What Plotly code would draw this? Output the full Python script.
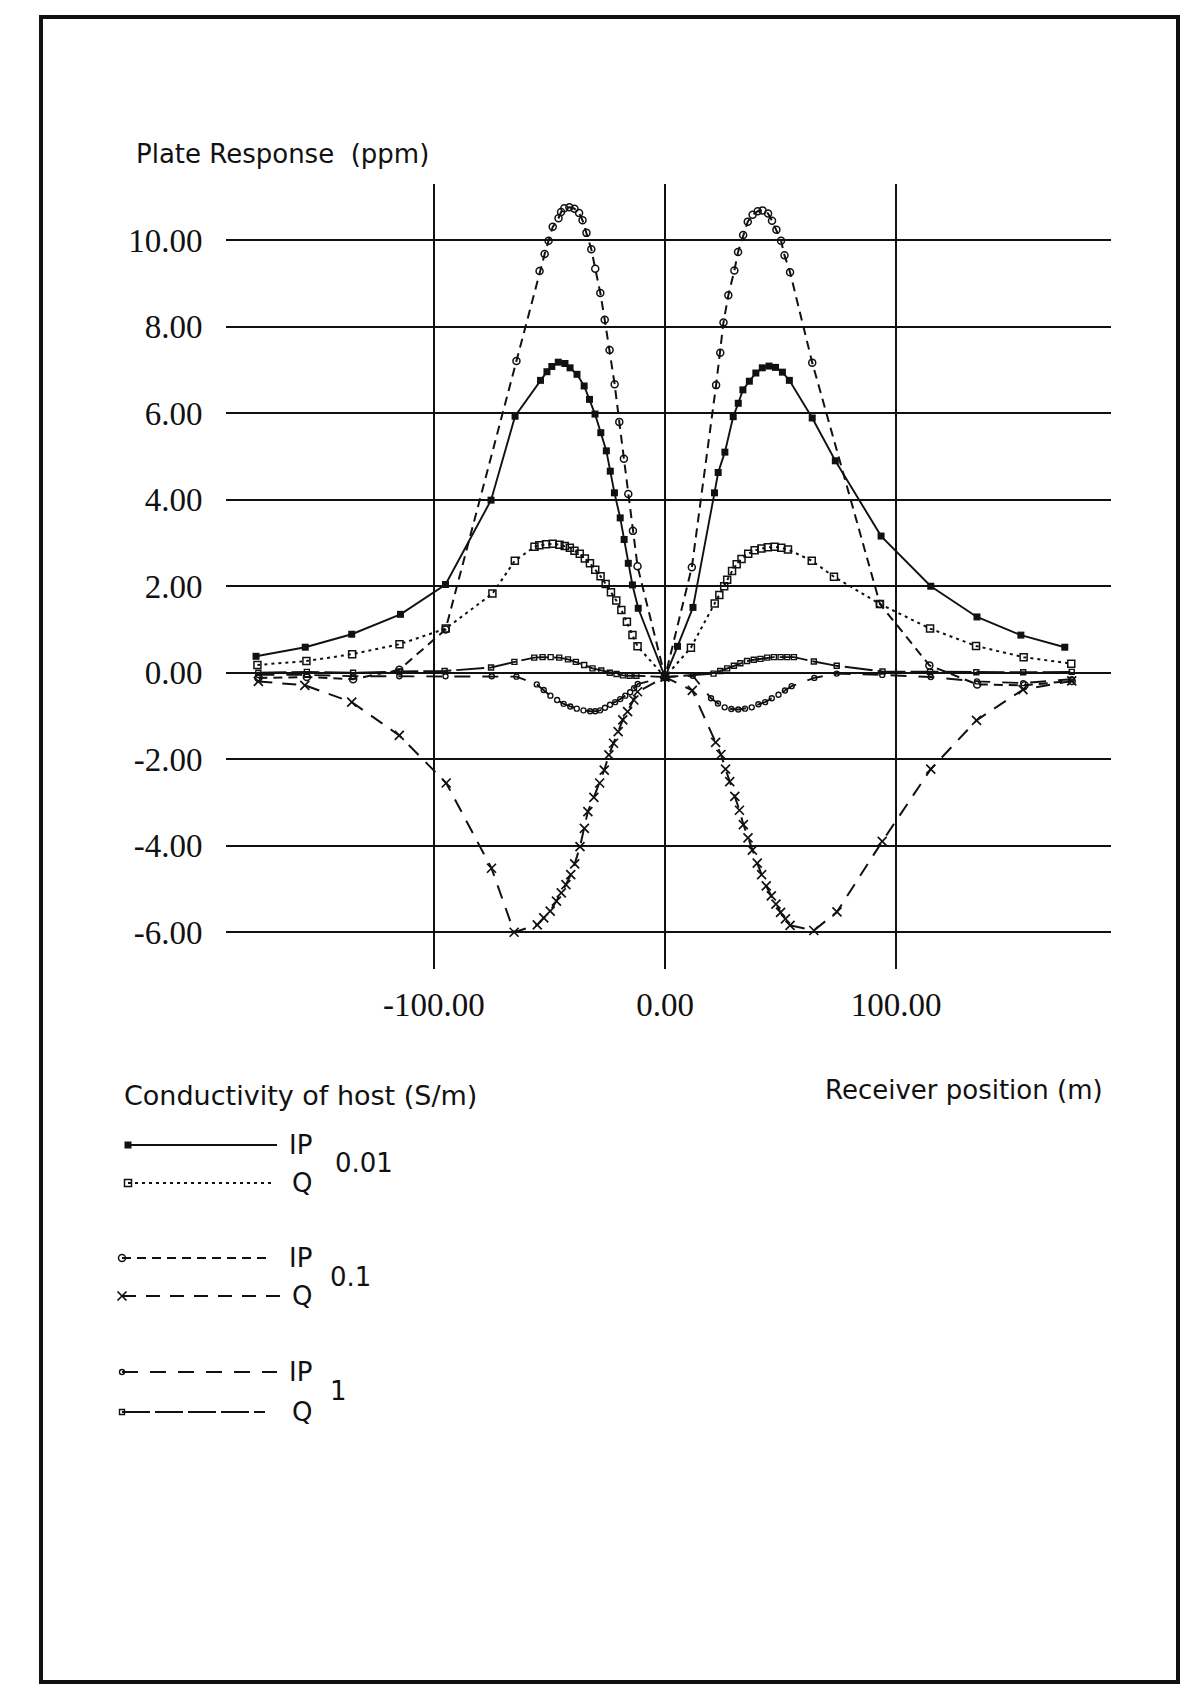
import plotly.graph_objects as go

# Plate response (ppm) versus receiver position (m) for three host conductivities.
# IP = in-phase, Q = quadrature.

# host 0.01 S/m, in-phase
x_ip_001 = [-177.0, -155.7, -135.6, -114.5, -95.0, -75.3, -64.9, -53.9, -51.1, -49.0, -46.2, -43.3,
            -41.1, -38.1, -35.0, -32.7, -30.3, -27.8, -25.4, -23.7, -21.9, -19.4, -17.7, -15.9,
            -14.1, -11.6, 0.0, 5.4, 12.1, 21.4, 23.0, 25.9, 29.5, 31.7, 33.7, 36.5, 39.3, 42.1,
            45.0, 47.8, 50.8, 53.8, 63.7, 73.7, 93.5, 115.0, 135.0, 154.0, 173.0]
y_ip_001 = [0.38, 0.59, 0.89, 1.35, 2.04, 3.99, 5.93, 6.76, 6.96, 7.08, 7.18, 7.15,
            7.05, 6.90, 6.63, 6.32, 5.98, 5.55, 5.13, 4.66, 4.16, 3.58, 3.08, 2.53,
            2.03, 1.49, -0.10, 0.61, 1.51, 4.16, 4.63, 5.10, 5.92, 6.23, 6.54, 6.74, 6.93, 7.05,
            7.09, 7.06, 6.95, 6.76, 5.89, 4.90, 3.16, 2.00, 1.29, 0.87, 0.59]

# host 0.01 S/m, quadrature
x_q_001 = [-176.4, -155.2, -135.4, -114.9, -94.9, -74.7, -65.0, -56.5, -54.4, -51.5, -48.6, -45.7,
           -43.4, -41.2, -39.2, -36.9, -34.7, -32.5, -30.2, -27.9, -25.7, -23.4, -21.1, -18.9,
           -16.5, -14.1, -11.9, 0.0, 11.2, 21.5, 23.5, 25.6, 26.9, 29.0, 31.0, 33.1, 36.0, 38.8,
           41.7, 44.5, 47.4, 50.3, 53.2, 63.5, 73.1, 93.0, 114.7, 134.6, 155.2, 175.8]
y_q_001 = [0.18, 0.27, 0.43, 0.66, 1.02, 1.83, 2.59, 2.91, 2.95, 2.97, 2.98, 2.96,
           2.93, 2.89, 2.82, 2.75, 2.64, 2.53, 2.38, 2.23, 2.05, 1.86, 1.67, 1.45,
           1.18, 0.87, 0.61, -0.10, 0.58, 1.60, 1.80, 2.00, 2.15, 2.35, 2.51, 2.63, 2.75, 2.83,
           2.87, 2.90, 2.91, 2.89, 2.85, 2.59, 2.22, 1.59, 1.02, 0.62, 0.36, 0.21]

# host 0.1 S/m, in-phase
x_ip_01 = [-176.0, -155.0, -135.0, -115.0, -95.0, -64.3, -54.3, -52.1, -50.4, -48.6, -46.1, -45.0,
           -43.6, -41.4, -39.2, -37.2, -35.7, -34.0, -31.9, -30.2, -28.0, -26.1, -24.0, -21.8,
           -19.8, -17.8, -15.9, -13.9, -11.9, 0.0, 11.6, 22.1, 23.9, 25.3, 27.4, 30.0, 31.6, 33.8,
           35.8, 37.9, 40.1, 42.2, 44.6, 46.3, 48.2, 50.2, 51.7, 54.1, 63.7, 93.0, 114.4, 135.1,
           155.6, 176.0]
y_ip_01 = [-0.12, -0.10, -0.15, 0.07, 1.00, 7.21, 9.29, 9.68, 9.99, 10.31, 10.51, 10.65,
           10.74, 10.76, 10.73, 10.63, 10.46, 10.17, 9.79, 9.34, 8.78, 8.16, 7.46, 6.67,
           5.80, 4.95, 4.13, 3.28, 2.46, -0.10, 2.44, 6.65, 7.40, 8.10, 8.73, 9.30, 9.73, 10.12,
           10.43, 10.59, 10.67, 10.69, 10.62, 10.45, 10.24, 9.99, 9.65, 9.26, 7.17, 1.59, 0.17, -0.27,
           -0.29, -0.19]

# host 0.1 S/m, quadrature
x_q_01 = [-176.0, -155.9, -135.6, -115.0, -94.7, -75.1, -65.3, -55.3, -52.5, -49.7, -47.0, -44.9,
          -42.9, -40.8, -39.1, -36.8, -34.9, -33.4, -30.8, -28.3, -26.3, -24.3, -22.3, -20.3,
          -18.3, -16.2, -13.5, -11.9, 0.0, 11.8, 21.9, 24.2, 26.2, 28.0, 30.2, 32.2, 33.9, 35.9,
          37.8, 39.9, 41.8, 43.8, 46.0, 48.0, 50.0, 52.1, 54.1, 64.4, 74.4, 94.0, 115.0, 134.8,
          154.9, 176.0]
y_q_01 = [-0.20, -0.29, -0.68, -1.45, -2.55, -4.52, -6.00, -5.83, -5.67, -5.51, -5.28, -5.09,
          -4.90, -4.67, -4.42, -4.02, -3.60, -3.21, -2.88, -2.55, -2.25, -1.90, -1.63, -1.36,
          -1.09, -0.90, -0.63, -0.44, -0.10, -0.41, -1.61, -1.89, -2.23, -2.52, -2.86, -3.18, -3.51, -3.82,
          -4.10, -4.40, -4.67, -4.93, -5.16, -5.35, -5.54, -5.69, -5.84, -5.96, -5.53, -3.90, -2.23, -1.10,
          -0.39, -0.19]

# host 1 S/m, in-phase
x_ip_1 = [-176.0, -155.0, -135.0, -115.0, -95.0, -75.0, -64.3, -55.5, -52.5, -49.6, -46.7, -43.9,
          -41.0, -38.2, -35.3, -32.4, -30.2, -28.1, -26.0, -23.8, -21.6, -19.4, -17.2, -15.1,
          -13.4, -11.8, 0.0, 12.0, 19.9, 22.9, 25.8, 28.7, 31.7, 34.6, 37.5, 40.4, 43.3, 46.2,
          49.1, 51.9, 54.8, 64.6, 74.3, 94.0, 115.0, 135.0, 155.0, 176.0]
y_ip_1 = [-0.05, -0.05, -0.08, -0.08, -0.08, -0.08, -0.09, -0.27, -0.40, -0.53, -0.63, -0.72,
          -0.78, -0.83, -0.87, -0.89, -0.89, -0.87, -0.81, -0.74, -0.68, -0.61, -0.53, -0.45,
          -0.36, -0.26, -0.10, -0.07, -0.59, -0.71, -0.80, -0.84, -0.85, -0.83, -0.80, -0.73, -0.68, -0.59,
          -0.51, -0.41, -0.31, -0.12, -0.02, -0.05, -0.10, -0.20, -0.24, -0.15]

# host 1 S/m, quadrature
x_q_1 = [-176.0, -155.0, -135.0, -115.0, -95.4, -75.3, -65.2, -56.6, -53.0, -49.5, -45.8, -42.0,
         -38.6, -35.0, -31.4, -27.6, -23.9, -21.0, -18.2, -15.3, -12.4, 0.0, 21.0, 23.9, 26.9,
         29.8, 32.6, 35.5, 38.4, 41.3, 44.2, 47.1, 50.0, 52.9, 55.8, 64.4, 74.3, 94.1, 114.7,
         134.7, 155.0, 176.0]
y_q_1 = [0.00, 0.02, 0.00, 0.03, 0.04, 0.12, 0.25, 0.35, 0.36, 0.36, 0.35, 0.31,
         0.25, 0.18, 0.10, 0.05, 0.00, -0.03, -0.06, -0.07, -0.07, -0.10, -0.02, 0.04, 0.10,
         0.16, 0.22, 0.27, 0.30, 0.32, 0.35, 0.36, 0.36, 0.36, 0.36, 0.26, 0.16, 0.03, 0.02,
         0.01, 0.01, 0.02]

x_tick_vals = [-100, 0, 100]
x_tick_text = ["-100.00", "0.00", "100.00"]
y_tick_vals = [-6, -4, -2, 0, 2, 4, 6, 8, 10]
y_tick_text = ["-6.00", "-4.00", "-2.00", "0.00", "2.00", "4.00", "6.00", "8.00", "10.00"]

conductivity_labels = ["0.01", "0.1", "1"]
component_labels = ["IP", "Q"]

# ---------------------------------------------------------------- styling
W, H = 1195, 1698
INK = "#111111"
SERIF = "Liberation Serif, Times New Roman, serif"
SANS = "DejaVu Sans, Verdana, sans-serif"

STYLE = {
    "ip_001": dict(line=dict(color=INK, width=1.9, dash="solid"),
                   marker=dict(symbol="square", size=7, color=INK)),
    "q_001": dict(line=dict(color=INK, width=2.0, dash="3px,4px"),
                  marker=dict(symbol="square-open", size=7, color=INK, line=dict(width=1.5, color=INK))),
    "ip_01": dict(line=dict(color=INK, width=2.0, dash="9px,6px"),
                  marker=dict(symbol="circle-open", size=7, color=INK, line=dict(width=1.5, color=INK))),
    "q_01": dict(line=dict(color=INK, width=2.0, dash="14px,10px"),
                 marker=dict(symbol="x-thin", size=9, color=INK, line=dict(width=1.7, color=INK))),
    "ip_1": dict(line=dict(color=INK, width=1.9, dash="16px,12px"),
                 marker=dict(symbol="circle-open", size=5, color=INK, line=dict(width=1.4, color=INK))),
    "q_1": dict(line=dict(color=INK, width=1.9, dash="28px,5px"),
                marker=dict(symbol="square-open", size=5, color=INK, line=dict(width=1.4, color=INK))),
}

series = [
    ("ip_001", x_ip_001, y_ip_001),
    ("q_001", x_q_001, y_q_001),
    ("ip_01", x_ip_01, y_ip_01),
    ("q_01", x_q_01, y_q_01),
    ("ip_1", x_ip_1, y_ip_1),
    ("q_1", x_q_1, y_q_1),
]

fig = go.Figure()

for key, xs, ys in series:
    st = STYLE[key]
    fig.add_trace(go.Scatter(x=xs, y=ys, mode="lines+markers", line=st["line"],
                             marker=st["marker"], xaxis="x", yaxis="y",
                             cliponaxis=False, hoverinfo="skip"))

# ---------------------------------------------------------------- key (pixel overlay axes)
key_rows = [  # (style, label, row y, line start, line end)
    ("ip_001", component_labels[0], 1145, 128, 277),
    ("q_001", component_labels[1], 1183, 128, 275),
    ("ip_01", component_labels[0], 1258, 122, 272),
    ("q_01", component_labels[1], 1296, 122, 280),
    ("ip_1", component_labels[0], 1372, 122, 277),
    ("q_1", component_labels[1], 1412, 122, 265),
]
for key, label, ry, xa, xb in key_rows:
    st = STYLE[key]
    fig.add_trace(go.Scatter(x=[xa, xb], y=[ry, ry], mode="lines", line=st["line"],
                             xaxis="x2", yaxis="y2", hoverinfo="skip"))
    fig.add_trace(go.Scatter(x=[xa], y=[ry], mode="markers", marker=st["marker"],
                             xaxis="x2", yaxis="y2", hoverinfo="skip"))

annotations = []


def label(text, x, y, anchor="left", size=26, family=SANS):
    annotations.append(dict(text=text, x=x, y=y, xref="x2", yref="y2", xanchor=anchor,
                            yanchor="middle", showarrow=False,
                            font=dict(family=family, size=size, color=INK)))


for key, comp, ry, xa, xb in key_rows:
    label(comp, 314, ry, anchor="right")

label(conductivity_labels[0], 333, 1163)
label(conductivity_labels[1], 328, 1277)
label(conductivity_labels[2], 328, 1391)

label("Plate Response\u00a0 (ppm)", 134, 154)
label("Receiver position (m)", 823, 1090)
label("Conductivity of host (S/m)", 122, 1095, size=27)

fig.update_layout(
    width=W, height=H,
    margin=dict(l=0, r=0, t=0, b=0),
    paper_bgcolor="white",
    plot_bgcolor="rgba(0,0,0,0)",
    showlegend=False,
    annotations=annotations,
    shapes=[dict(type="rect", xref="x2", yref="y2", x0=41, y0=17, x1=1178, y1=1682,
                 line=dict(color=INK, width=4), layer="above")],
    xaxis=dict(domain=[226 / W, 1111 / W], range=[-190, 193], anchor="y",
               tickmode="array", tickvals=x_tick_vals, ticktext=x_tick_text,
               showgrid=True, gridcolor=INK, gridwidth=1.7, zeroline=False, showline=False,
               ticks="outside", ticklen=6, tickcolor="rgba(0,0,0,0)",
               tickfont=dict(family=SERIF, size=33, color=INK),
               automargin=False, fixedrange=True),
    yaxis=dict(domain=[1 - 969 / H, 1 - 184 / H], range=[-6.85, 11.3], anchor="x",
               tickmode="array", tickvals=y_tick_vals, ticktext=y_tick_text,
               showgrid=True, gridcolor=INK, gridwidth=1.7, zeroline=False, showline=False,
               ticks="outside", ticklen=16, tickcolor="rgba(0,0,0,0)",
               tickfont=dict(family=SERIF, size=33, color=INK),
               automargin=False, fixedrange=True),
    xaxis2=dict(domain=[0, 1], range=[0, W], anchor="y2", visible=False, fixedrange=True),
    yaxis2=dict(domain=[0, 1], range=[H, 0], anchor="x2", visible=False, fixedrange=True),
)

fig.write_html("out.html")
